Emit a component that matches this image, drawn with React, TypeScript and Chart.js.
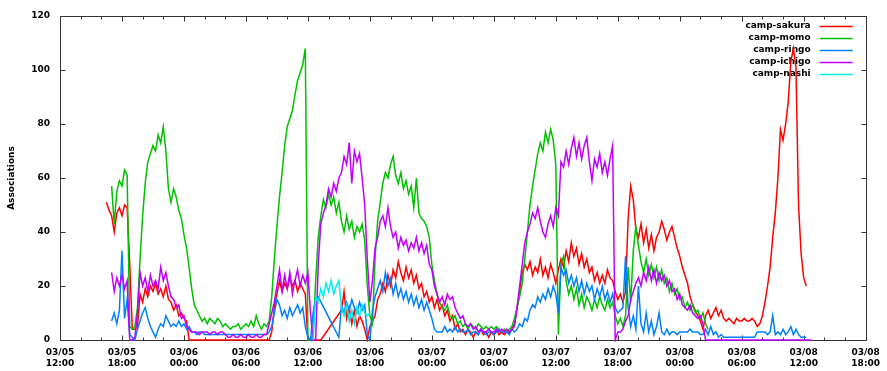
import React, { useEffect, useRef } from "react";
import { Chart, registerables } from "chart.js";

Chart.register(...registerables);

// Time axis: hours since 03/05 12:00, one sample every STEP hours
const STEP = 0.25;
const X_MIN = 0;
const X_MAX = 78;
const X_TICK_LABELS: string[][] = [
  ["03/05", "12:00"], ["03/05", "18:00"], ["03/06", "00:00"], ["03/06", "06:00"],
  ["03/06", "12:00"], ["03/06", "18:00"], ["03/07", "00:00"], ["03/07", "06:00"],
  ["03/07", "12:00"], ["03/07", "18:00"], ["03/08", "00:00"], ["03/08", "06:00"],
  ["03/08", "12:00"], ["03/08", "18:00"],
];
const Y_MIN = 0;
const Y_MAX = 120;
const Y_STEP = 20;
const Y_TITLE = "Associations";

const SERIES_NAMES = ["camp-sakura", "camp-momo", "camp-ringo", "camp-ichigo", "camp-nashi"];
const SERIES_COLORS = ["#ff0000", "#00c000", "#0080ff", "#c000ff", "#00eeee"];

const sakuraStart = 4.5;
const sakura: (number | null)[] = [
  51, 48, 46, 40, 47, 49, 46, 50, 49, 28, 4, 4, 5, 17, 14, 19,
  16, 20, 18, 21, 17, 19, 16, 20, 15, 14, 11, 13, 9, 10, 8, 7,
  0, 0, 0, 0, 0, 0, 0, 0, 0, 0, 0, 0, 0, 0, 0, 0,
  0, 0, 0, 0, 0, 0, 0, 0, 0, 0, 0, 0, 0, 0, 0, 0,
  3, 12, 17, 22, 18, 21, 19, 23, 20, 22, 18, 21, 19, 17, 0, 0,
  0, 0, 0, 0, null, null, null, null, null, null, null, 11, 18, 8, 12, 6,
  11, 5, 9, 7, 4, 0, 5, 7, 9, 15, 17, 21, 18, 24, 20, 26,
  23, 29, 25, 22, 27, 23, 26, 21, 24, 19, 21, 16, 18, 14, 16, 12,
  15, 11, 13, 9, 11, 7, 9, 4, 6, 3, 4, 2, 4, 3, 1, 3,
  2, 4, 2, 3, 1, 3, 2, 4, 2, 3, 2, 3, 3, 4, 6, 12,
  18, 25, 28, 26, 29, 24, 27, 25, 30, 24, 27, 23, 28, 25, 21, 26,
  30, 27, 33, 29, 36, 31, 34, 28, 32, 27, 30, 25, 27, 22, 25, 21,
  24, 21, 26, 23, 22, 18, 15, 17, 14, 18, 45, 57, 52, 41, 38, 43,
  36, 41, 34, 39, 33, 38, 40, 44, 41, 37, 40, 42, 38, 34, 31, 27,
  24, 21, 16, 13, 11, 9, 7, 4, 9, 11, 8, 10, 12, 9, 11, 8,
  7, 8, 7, 6, 8, 7, 7, 8, 7, 7, 8, 7, 5, 6, 9, 14,
  20, 27, 38, 47, 60, 78, 74, 80, 88, 103, 108, 101, 50, 32, 23, 20,
];

const momoStart = 5.0;
const momo: (number | null)[] = [
  57, 43, 55, 59, 57, 63, 61, 5, 4, 5, 12, 30, 46, 58, 66, 69,
  72, 70, 76, 73, 79, 70, 56, 51, 56, 53, 48, 45, 39, 34, 27, 19,
  13, 11, 9, 7, 8, 6, 8, 7, 6, 8, 7, 5, 6, 5, 4, 5,
  5, 6, 4, 5, 6, 5, 7, 5, 9, 6, 4, 6, 5, 7, 16, 30,
  42, 53, 62, 72, 79, 82, 85, 91, 96, 99, 102, 108, 0, 0, 2, 22,
  38, 46, 52, 49, 54, 50, 53, 47, 51, 44, 40, 46, 41, 44, 38, 42,
  40, 43, 37, 20, 9, 6, 30, 44, 51, 58, 62, 60, 65, 68, 61, 58,
  62, 56, 59, 54, 57, 49, 60, 47, 45, 44, 42, 38, 28, 22, 17, 14,
  12, 11, 13, 9, 8, 9, 6, 7, 5, 6, 4, 6, 5, 4, 6, 5,
  4, 5, 4, 5, 4, 5, 4, 3, 4, 3, 4, 5, 8, 12, 16, 21,
  30, 40, 50, 57, 63, 69, 73, 70, 77, 73, 78, 74, 65, 2, 28, 31,
  22, 17, 20, 15, 19, 13, 17, 12, 16, 14, 11, 15, 12, 16, 13, 11,
  15, 12, 14, 9, 6, 8, 5, 9, 27, 14, 33, 42, 35, 29, 25, 30,
  24, 28, 23, 27, 22, 26, 21, 23, 18, 21, 17, 19, 15, 16, 12, 14,
  11, 13, 10, 11, 8, 10, 6, 4,
];

const ringoStart = 5.0;
const ringo: (number | null)[] = [
  7, 10, 6, 11, 33, 8, 15, 2, 1, 0, 4, 7, 10, 12, 8, 5,
  3, 1, 4, 6, 5, 9, 7, 5, 6, 5, 7, 5, 6, 4, 5, 3,
  3, 2, 3, 3, 2, 2, 2, 2, 2, 2, 2, 2, 2, 2, 2, 2,
  2, 2, 2, 2, 2, 2, 2, 2, 2, 2, 2, 2, 2, 3, 5, 10,
  15, 13, 9, 11, 8, 12, 9, 11, 13, 10, 12, 5, 1, 0, 10, 15,
  16, null, null, null, null, null, null, null, 1, 13, 10, 14, 11, 15, 12, 10,
  14, 11, 13, 2, 0, 11, 16, 19, 22, 18, 25, 20, 23, 17, 21, 16,
  19, 15, 18, 14, 17, 13, 16, 12, 15, 11, 14, 11, 8, 4, 3, 3,
  3, 5, 3, 4, 3, 5, 3, 4, 3, 3, 4, 2, 3, 3, 2, 4,
  3, 2, 3, 3, 2, 3, 4, 3, 3, 3, 2, 4, 3, 4, 6, 5,
  8, 7, 11, 13, 12, 16, 14, 17, 15, 19, 16, 20, 17, 10, 27, 24,
  26, 21, 24, 20, 23, 18, 22, 17, 21, 18, 20, 15, 19, 16, 20, 15,
  18, 14, 17, 12, 10, 11, 12, 31, 12, 5, 9, 4, 20, 6, 3, 10,
  3, 7, 2, 5, 10, 3, 2, 4, 2, 3, 3, 2, 3, 3, 3, 3,
  4, 3, 3, 3, 2, 2, 4, 2, 5, 2, 3, 1, 2, 1, 1, 1,
  1, 1, 1, 1, 1, 1, 1, 1, 1, 1, 3, 3, 3, 3, 2, 3,
  9, 2, 3, 2, 4, 2, 3, 5, 2, 4, 2, 1, 1, 1,
];

const ichigoStart = 5.0;
const ichigo: (number | null)[] = [
  25, 18, 23, 20, 24, 19, 22, 0, 0, 1, 10, 25, 20, 23, 18, 24,
  20, 22, 19, 27, 22, 25, 20, 16, 15, 12, 13, 8, 9, 5, 4, 3,
  3, 3, 2, 3, 3, 3, 2, 3, 3, 2, 3, 3, 2, 1, 1, 2,
  1, 1, 2, 1, 1, 2, 1, 1, 2, 1, 1, 2, 2, 6, 10, 14,
  20, 26, 18, 24, 19, 25, 17, 22, 26, 20, 24, 21, 25, 10, 0, 0,
  28, 43, 47, 50, 56, 53, 58, 55, 60, 62, 68, 65, 73, 58, 70, 66,
  69, 60, 50, 30, 14, 22, 34, 38, 44, 46, 42, 49, 42, 38, 40, 34,
  38, 35, 37, 33, 36, 34, 38, 33, 36, 32, 35, 28, 26, 20, 17, 14,
  16, 13, 17, 15, 16, 12, 10, 8, 9, 6, 5, 6, 4, 5, 3, 4,
  3, 3, 4, 3, 3, 4, 3, 4, 3, 4, 3, 4, 5, 12, 20, 28,
  36, 40, 43, 47, 45, 49, 44, 40, 38, 43, 46, 42, 49, 46, 66, 64,
  70, 65, 71, 75, 68, 73, 67, 72, 75, 66, 59, 67, 64, 69, 62, 66,
  61, 67, 72, 0, 3, 3, 4, 7, 9, 15, 18, 21, 23, 20, 25, 22,
  27, 22, 26, 21, 25, 22, 24, 20, 22, 18, 19, 15, 17, 13, 12, 11,
  13, 10, 9, 8, 9, 6, 0, 0, 0, 0, 0, 0, 0, 0, 0, 0,
  0, 0, 0, 0, 0, 0, 0, 0, 0, 0, 0, 0, 0, 0, 0, 0,
  0, 0, 0, 0, 0, 0, 0, 0, 0, 0, 0, 0, 0, 0, 0, 0,
];

const nashiStart = 24.5;
const nashi: (number | null)[] = [
  0, 16, 14, 19, 16, 21, 18, 22, 17, 20, 22, 12, 9, 13, 7, 11,
  6, 12, 9, 13, 10, 9, 10,
];

const SERIES_STARTS = [sakuraStart, momoStart, ringoStart, ichigoStart, nashiStart];
const SERIES_VALUES = [sakura, momo, ringo, ichigo, nashi];

const FONT_FAMILY = '"DejaVu Sans", "Liberation Sans", Arial, sans-serif';
const FONT_SIZE = 9;

function toPoints(start: number, values: (number | null)[]) {
  return values.map((v, i) => ({ x: start + i * STEP, y: v }));
}

const framePlugin = {
  id: "gnuplotFrame",
  beforeDatasetsDraw(chart: any) {
    const { ctx, chartArea: a, scales } = chart;
    const xs = scales.x;
    const ys = scales.y;
    ctx.save();
    ctx.strokeStyle = "#333";
    ctx.lineWidth = 1;
    const L = Math.round(a.left) + 0.5;
    const R = Math.round(a.right) + 0.5;
    const T = Math.round(a.top) + 0.5;
    const B = Math.round(a.bottom) + 0.5;
    ctx.beginPath();
    ctx.rect(L, T, R - L, B - T);
    // x ticks: minor every 2h, major every 6h, mirrored top/bottom, pointing inward
    for (let h = xs.min; h <= xs.max + 1e-6; h += 2) {
      const px = Math.round(xs.getPixelForValue(h)) + 0.5;
      const len = Math.round(h) % 6 === 0 ? 5 : 3;
      ctx.moveTo(px, B);
      ctx.lineTo(px, B - len);
      ctx.moveTo(px, T);
      ctx.lineTo(px, T + len);
    }
    // y ticks mirrored left/right
    for (const t of ys.ticks) {
      const py = Math.round(ys.getPixelForValue(t.value)) + 0.5;
      ctx.moveTo(L, py);
      ctx.lineTo(L + 5, py);
      ctx.moveTo(R, py);
      ctx.lineTo(R - 5, py);
    }
    ctx.stroke();

    // key (legend) at top right, text right-aligned, sample line to the right
    ctx.font = `bold ${FONT_SIZE}px ${FONT_FAMILY}`;
    ctx.textAlign = "right";
    ctx.textBaseline = "middle";
    chart.data.datasets.forEach((ds: any, i: number) => {
      const yy = Math.round(a.top) + 10 + i * 12;
      ctx.fillStyle = "#000";
      ctx.fillText(ds.label, a.right - 55, yy);
      ctx.strokeStyle = ds.borderColor;
      ctx.lineWidth = 1.5;
      ctx.beginPath();
      ctx.moveTo(a.right - 46, yy + 0.5);
      ctx.lineTo(a.right - 13, yy + 0.5);
      ctx.stroke();
    });
    ctx.restore();
  },
};

export default function App() {
  const canvasRef = useRef<HTMLCanvasElement | null>(null);

  useEffect(() => {
    if (!canvasRef.current) return;
    const datasets = SERIES_NAMES.map((name, i) => ({
      label: name,
      data: toPoints(SERIES_STARTS[i], SERIES_VALUES[i]),
      borderColor: SERIES_COLORS[i],
      backgroundColor: SERIES_COLORS[i],
      borderWidth: 1.5,
      pointRadius: 0,
      tension: 0,
      fill: false,
      spanGaps: true,
      clip: 2,
      order: SERIES_NAMES.length - i,
    }));

    const chart = new Chart(canvasRef.current, {
      type: "line",
      data: { datasets },
      plugins: [framePlugin],
      options: {
        animation: false,
        responsive: false,
        layout: { padding: { left: 0, right: 17, top: 16, bottom: 0 } },
        plugins: {
          legend: { display: false },
          tooltip: { enabled: false },
        },
        scales: {
          x: {
            type: "linear",
            min: X_MIN,
            max: X_MAX,
            grid: { display: false, drawTicks: false },
            border: { display: false },
            afterFit: (scale: any) => {
              scale.height = 31;
            },
            ticks: {
              stepSize: 6,
              autoSkip: false,
              maxRotation: 0,
              padding: 7,
              color: "#000",
              font: { family: FONT_FAMILY, size: FONT_SIZE, weight: "bold", lineHeight: 1.2 },
              callback: (value: any) => {
                const idx = Math.round((Number(value) - X_MIN) / 6);
                return X_TICK_LABELS[idx] ?? "";
              },
            },
          },
          y: {
            type: "linear",
            min: Y_MIN,
            max: Y_MAX,
            grid: { display: false, drawTicks: false },
            border: { display: false },
            afterFit: (scale: any) => {
              scale.width = 60;
            },
            title: {
              display: true,
              text: Y_TITLE,
              color: "#000",
              padding: { top: 6, bottom: 0 },
              font: { family: FONT_FAMILY, size: FONT_SIZE, weight: "bold" },
            },
            ticks: {
              stepSize: Y_STEP,
              padding: 10,
              color: "#000",
              font: { family: FONT_FAMILY, size: FONT_SIZE, weight: "bold" },
            },
          },
        },
      } as any,
    });
    return () => chart.destroy();
  }, []);

  return (
    <div style={{ position: "absolute", left: 0, top: 0, width: 887, height: 371, background: "#fff" }}>
      <canvas ref={canvasRef} width={887} height={371} />
    </div>
  );
}
